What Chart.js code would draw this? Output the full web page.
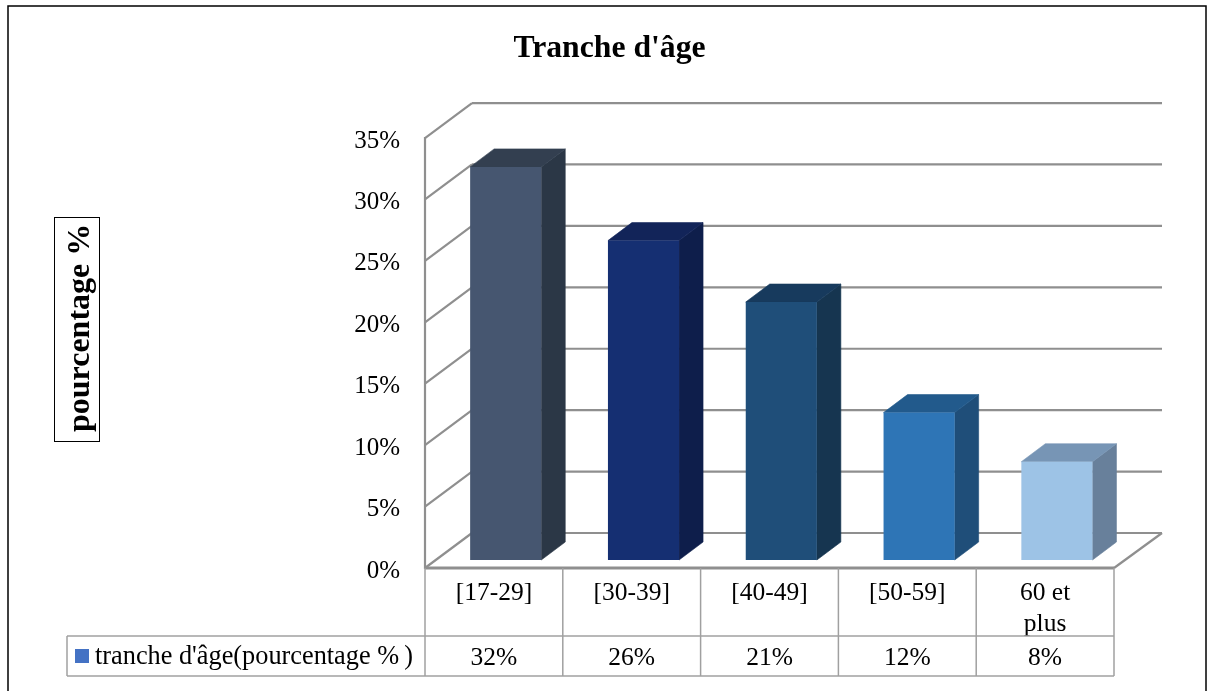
<!DOCTYPE html>
<html>
<head>
<meta charset="utf-8">
<title>Tranche d'âge</title>
<script src="https://cdn.jsdelivr.net/npm/chart.js@4"></script>
<style>
  html, body { margin: 0; padding: 0; background: #fff; overflow: hidden; }
  canvas { display: block; }
</style>
</head>
<body>
<canvas id="chart" width="1211" height="691"></canvas>
<script>
const categories = ['[17-29]', '[30-39]', '[40-49]', '[50-59]', ['60 et', 'plus']];
const values = [32, 26, 21, 12, 8];
const seriesName = "tranche d'âge(pourcentage %\u2009)";
const axisName = 'pourcentage %';
const chartTitle = "Tranche d'âge";

const frontColors = ['#465670', '#152f72', '#1f4e79', '#2e75b6', '#9dc3e6'];
const sideColors = ['#2b3746', '#0e1e4b', '#163550', '#1f4e79', '#68809b'];
const topColors = ['#333f50', '#122459', '#173a5d', '#225a8c', '#7795b5'];

const SERIF = '"Liberation Serif", serif';
const GRID = '#8f8f8f';
const TABLE = '#a0a0a0';

// box depth of the walls, and how far the bars sit inside it
const wall = { dx: 47, dy: 35 };
const barShift = { dx: 11.8, dy: 8 };
const barDepth = { dx: 24, dy: 18 };

function line(ctx, x1, y1, x2, y2) {
  ctx.beginPath();
  ctx.moveTo(x1, y1);
  ctx.lineTo(x2, y2);
  ctx.stroke();
}

function face(ctx, pts, color) {
  ctx.beginPath();
  pts.forEach((p, i) => i ? ctx.lineTo(p[0], p[1]) : ctx.moveTo(p[0], p[1]));
  ctx.closePath();
  ctx.fillStyle = color;
  ctx.strokeStyle = color;
  ctx.lineWidth = 0.6;
  ctx.fill();
  ctx.stroke();
}

const boxBars = {
  id: 'boxBars',
  beforeDatasetsDraw(chart) {
    const { ctx, chartArea: area, scales: { y } } = chart;
    ctx.save();

    // walls and floor
    ctx.strokeStyle = GRID;
    ctx.lineWidth = 2.2;
    y.ticks.forEach(t => {
      const py = y.getPixelForValue(t.value);
      line(ctx, area.left, py, area.left + wall.dx, py - wall.dy);
      line(ctx, area.left + wall.dx, py - wall.dy, area.right + wall.dx + 1, py - wall.dy);
    });
    line(ctx, area.left, area.top - 1, area.left, area.bottom + 1);
    line(ctx, area.right, area.bottom, area.right + wall.dx + 1, area.bottom - wall.dy);
    ctx.lineWidth = 3;
    line(ctx, area.left, area.bottom, area.right, area.bottom);
    ctx.restore();

    // side and top faces, then leave the context shifted for the front faces
    ctx.save();
    ctx.translate(barShift.dx, -barShift.dy);
    chart.getDatasetMeta(0).data.forEach((bar, i) => {
      const l = bar.x - bar.width / 2;
      const r = bar.x + bar.width / 2;
      const d = barDepth;
      face(ctx, [[r, bar.y], [r + d.dx, bar.y - d.dy], [r + d.dx, bar.base - d.dy], [r, bar.base]], sideColors[i]);
      face(ctx, [[l, bar.y], [l + d.dx, bar.y - d.dy], [r + d.dx, bar.y - d.dy], [r, bar.y]], topColors[i]);
    });
  },
  afterDatasetsDraw(chart) {
    chart.ctx.restore();
  },
  afterDraw(chart) {
    const { ctx, chartArea: area, scales: { x } } = chart;
    const cell = (area.right - area.left) / values.length;
    const rowTop = 636;
    const rowBottom = 676;
    const tableLeft = 67;

    ctx.save();

    // data table under the axis
    ctx.strokeStyle = TABLE;
    ctx.lineWidth = 1.5;
    for (let i = 0; i <= values.length; i++) {
      const px = area.left + i * cell;
      line(ctx, px, area.bottom, px, rowBottom);
    }
    line(ctx, tableLeft, rowTop, area.right, rowTop);
    line(ctx, tableLeft, rowBottom, area.right, rowBottom);
    line(ctx, tableLeft, rowTop, tableLeft, rowBottom);

    ctx.fillStyle = '#000';
    ctx.font = '25.5px ' + SERIF;
    ctx.textBaseline = 'middle';
    ctx.textAlign = 'center';
    values.forEach((v, i) => ctx.fillText(v + '%', x.getPixelForValue(i), 658));

    ctx.textAlign = 'left';
    ctx.font = '26.3px ' + SERIF;
    ctx.fillText(seriesName, 95, 657);
    ctx.fillStyle = '#4472c4';
    ctx.fillRect(75, 649, 14, 14);

    // boxed axis name
    ctx.strokeStyle = '#000';
    ctx.lineWidth = 1;
    ctx.strokeRect(54.5, 217.5, 45, 224);
    ctx.translate(89, 432);
    ctx.rotate(-Math.PI / 2);
    ctx.fillStyle = '#000';
    ctx.font = 'bold 32px ' + SERIF;
    ctx.textAlign = 'left';
    ctx.textBaseline = 'alphabetic';
    ctx.fillText(axisName, 0, 0);
    ctx.restore();

    // outer frame, open along the bottom edge
    ctx.save();
    ctx.strokeStyle = '#000';
    ctx.lineWidth = 1.5;
    ctx.strokeRect(8, 6, 1198, 700);
    ctx.restore();
  }
};

new Chart(document.getElementById('chart'), {
  type: 'bar',
  data: {
    labels: categories,
    datasets: [{
      label: seriesName,
      data: values,
      backgroundColor: frontColors,
      borderWidth: 0,
      categoryPercentage: 1,
      barPercentage: 0.516
    }]
  },
  plugins: [boxBars],
  options: {
    responsive: false,
    animation: false,
    layout: { padding: { left: 105, right: 97, top: 0, bottom: 0 } },
    plugins: {
      legend: { display: false },
      tooltip: { enabled: false },
      title: {
        display: true,
        text: chartTitle,
        color: '#000',
        font: { family: SERIF, size: 31.7, weight: 'bold', lineHeight: 1.2 },
        padding: { top: 30, bottom: 70 }
      }
    },
    scales: {
      x: {
        grid: { display: false, drawTicks: false },
        border: { display: false },
        afterFit(scale) { scale.height = 123; },
        ticks: {
          color: '#000',
          font: { family: SERIF, size: 25.5, lineHeight: 1.2 },
          padding: 10,
          maxRotation: 0,
          autoSkip: false
        }
      },
      y: {
        min: 0,
        max: 35,
        grid: { display: false, drawTicks: false },
        border: { display: false },
        afterFit(scale) { scale.width = 320; },
        ticks: {
          stepSize: 5,
          color: '#000',
          font: { family: SERIF, size: 25 },
          padding: 25,
          labelOffset: 3,
          callback: v => v + '%'
        }
      }
    }
  }
});
</script>
</body>
</html>
